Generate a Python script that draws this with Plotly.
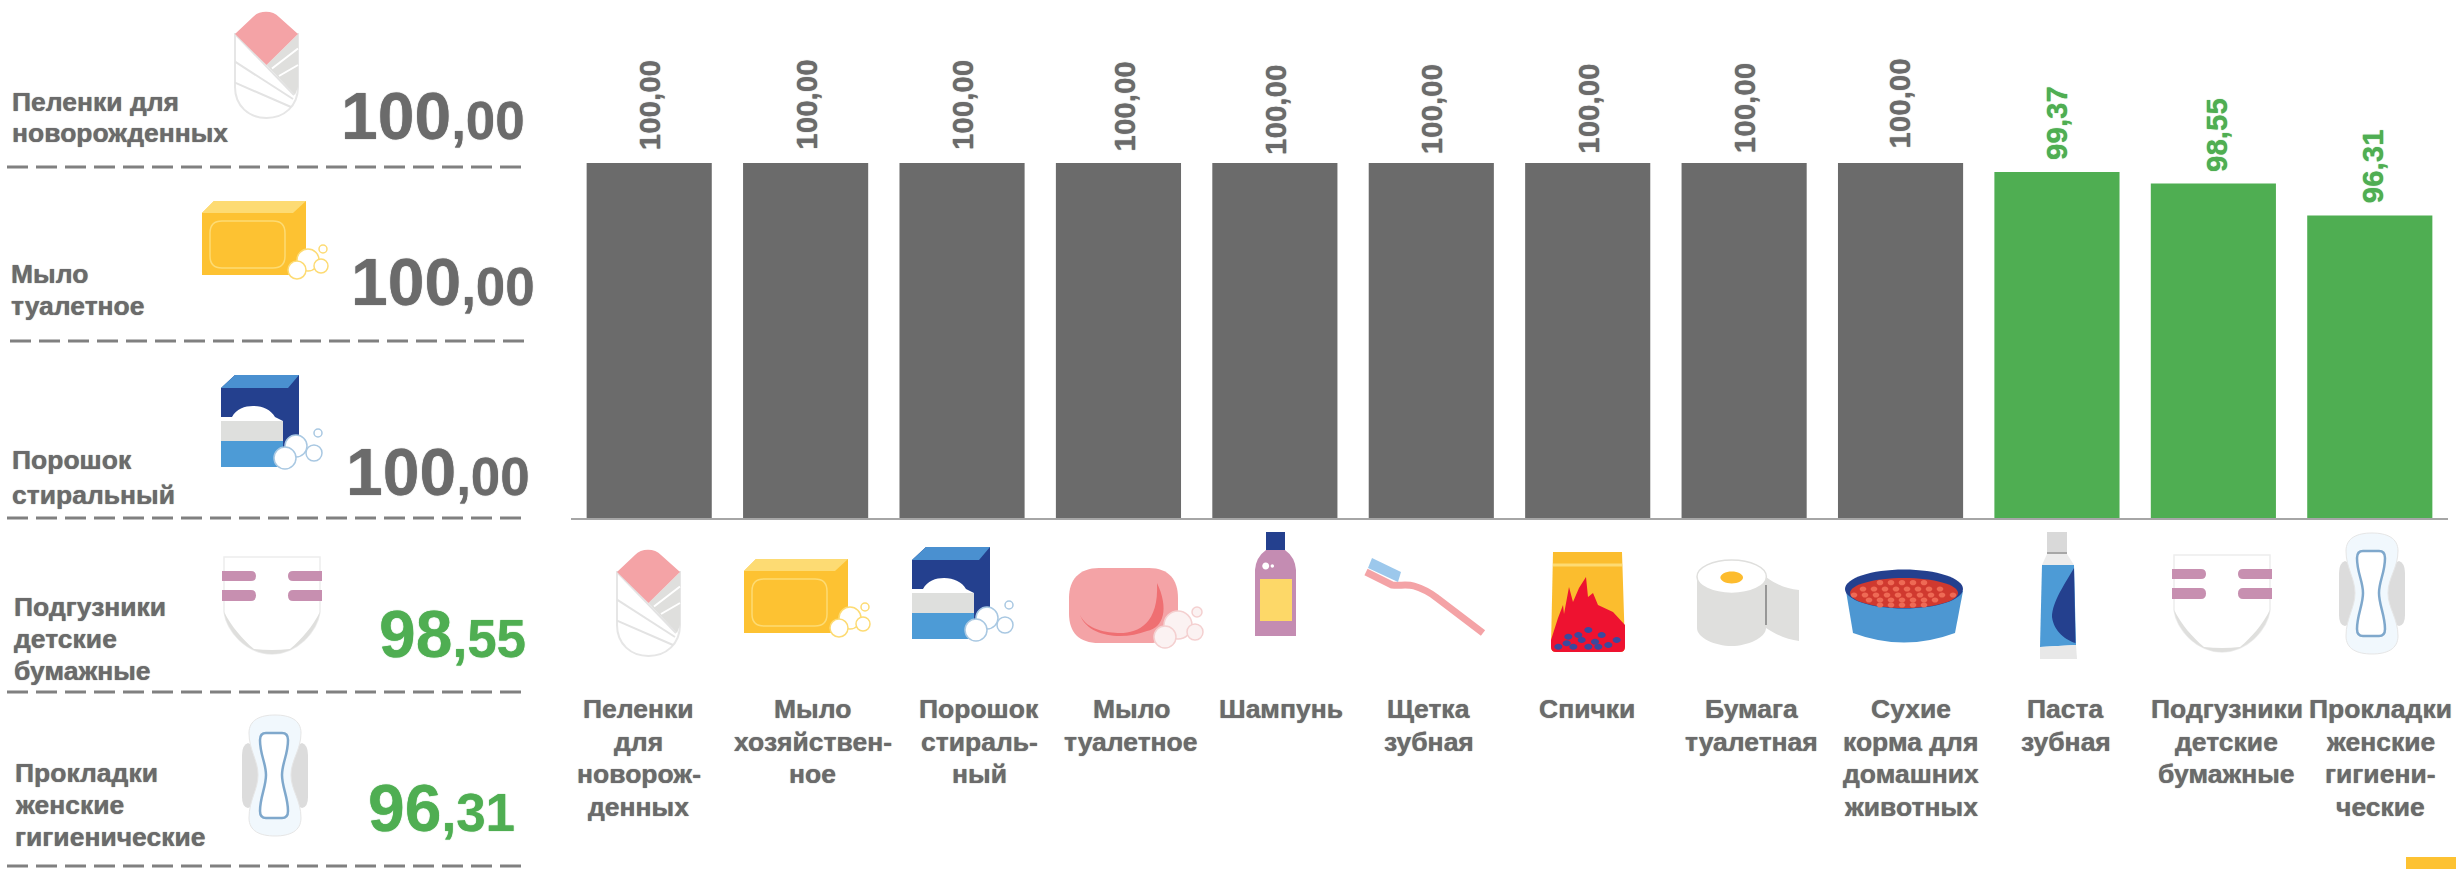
import re
import plotly.graph_objects as go

W, H = 2456, 869
GRAY, GREEN, TEXT = "#6B6B6B", "#4FAE52", "#6B6B6B"
FONT = "Liberation Sans, Arial, sans-serif"

categories = ["Пеленки для новорожденных", "Мыло хозяйственное", "Порошок стиральный", "Мыло туалетное",
              "Шампунь", "Щетка зубная", "Спички", "Бумага туалетная",
              "Сухие корма для домашних животных", "Паста зубная", "Подгузники детские бумажные",
              "Прокладки женские гигиенические"]
values = [100.00, 100.00, 100.00, 100.00, 100.00, 100.00, 100.00, 100.00, 100.00, 99.37, 98.55, 96.31]
tick_labels = [["Пеленки", "для", "новорож-", "денных"], ["Мыло", "хозяйствен-", "ное"], ["Порошок", "стираль-", "ный"],
               ["Мыло", "туалетное"], ["Шампунь"], ["Щетка", "зубная"], ["Спички"], ["Бумага", "туалетная"],
               ["Сухие", "корма для", "домашних", "животных"], ["Паста", "зубная"], ["Подгузники", "детские", "бумажные"],
               ["Прокладки", "женские", "гигиени-", "ческие"]]
panel_names = [["Пеленки для", "новорожденных"], ["Мыло", "туалетное"], ["Порошок", "стиральный"],
               ["Подгузники", "детские", "бумажные"], ["Прокладки", "женские", "гигиенические"]]
panel_values = [100.00, 100.00, 100.00, 98.55, 96.31]

# horizontal nudges of the category captions and value labels, panel layout
tick_shift = [-10.5, 7, 17, 13, 6, -2.5, -1, 7, 10, 9, 13.5, 11]
label_xshift = [0, 0, 0, 6, 0, 0, 0, 0, -2, 0, 3, 3]
label_lift = [11, 11, 11, 10, 6, 7, 7, 8, 12, 10, 10, 10]
panel_text_x = [10, 9, 10, 12, 13]
panel_text_y = [[102, 133], [274, 306], [460, 495], [607, 639, 671], [773, 805, 837]]
panel_value_right = [527, 537, 532, 528, 517]
panel_value_base = [139, 305, 495, 657, 831]
rule_y = [167, 341, 518, 692, 866]
rule_x = [7, 10, 7, 7, 7]

shapes, annotations = [], []


def path(d, ox=0, oy=0, fill=None, line=None, lw=0, layer="above"):
    toks = re.findall(r"[MLCQZ]|-?\d+\.?\d*", d)
    s, isx = "", True
    for t in toks:
        if t in "MLCQZ":
            s += t
        else:
            s += f"{(float(t) + ox) / W:.6f} " if isx else f"{1 - (float(t) + oy) / H:.6f} "
            isx = not isx
    shapes.append(dict(type="path", xref="paper", yref="paper", path=s, layer=layer,
                       fillcolor=fill or "rgba(0,0,0,0)",
                       line=dict(color=line or "rgba(0,0,0,0)", width=lw)))


def ell(cx, cy, rx, ry=None, ox=0, oy=0, **kw):
    ry = rx if ry is None else ry
    k = 0.5523
    d = (f"M{cx - rx},{cy} C{cx - rx},{cy - k * ry} {cx - k * rx},{cy - ry} {cx},{cy - ry} "
         f"C{cx + k * rx},{cy - ry} {cx + rx},{cy - k * ry} {cx + rx},{cy} "
         f"C{cx + rx},{cy + k * ry} {cx + k * rx},{cy + ry} {cx},{cy + ry} "
         f"C{cx - k * rx},{cy + ry} {cx - rx},{cy + k * ry} {cx - rx},{cy} Z")
    path(d, ox, oy, **kw)


PINK, LGREY, NAVY, BLUE, YEL, PALEY = "#F4A3A6", "#DFDFDD", "#24408E", "#4D9BD6", "#FDC232", "#FDDB73"


def swaddle(ox, oy):
    path("M0,23 L0,76 C0,95 14,107 31.5,107 C49,107 63,95 63,76 L63,23 Z", ox, oy, fill="white", line="#E6E6E6", lw=2)
    path("M63,23 L31.5,54 L60,84 L63,76 Z", ox, oy, fill=LGREY)
    for d in ["M37,57.5 L63,37.5", "M44,65 L63,54"]:
        path(d, ox, oy, line="white", lw=2)
    for d in ["M0,23 L59,84", "M0,50.7 L58,88", "M0,71.7 L56,96"]:
        path(d, ox, oy, line="#E3E3E3", lw=2)
    path("M0,23 L18,6 C24,-1 38,-1 44,6 L63,23 L31.5,54 Z", ox, oy, fill=PINK)


def bubbles(ox, oy, items, stroke, fill="white"):
    for cx, cy, r in items:
        ell(cx, cy, r, ox=ox, oy=oy, fill=fill, line=stroke, lw=1.5)


def soap(ox, oy):
    path("M0,12 L12,0 L104,0 L104,60 L91,74 L0,74 Z", ox, oy, fill=YEL)
    path("M0,12 L12,0 L104,0 L91,12 Z", ox, oy, fill=PALEY)
    path("M20,20 L71,20 Q83,20 83,32 L83,55 Q83,67 71,67 L20,67 Q8,67 8,55 L8,32 Q8,20 20,20 Z", ox, oy,
         line=PALEY, lw=1.5)
    bubbles(ox, oy, [(106, 59, 11), (119, 65, 7), (121, 48, 4), (95, 69, 9)], PALEY)


def powder(ox, oy):
    path("M0,13 L14,0 L78,0 L78,80 L62,80 L62,92 L0,92 Z", ox, oy, fill=NAVY)
    path("M0,13 L14,0 L78,0 L67,13 Z", ox, oy, fill="#4A90D0")
    path("M0,46 L0,42 L11,42 C15,34 24,31 32,31 C42,31 50,35 54,42 L62,46 Z", ox, oy, fill="white")
    path("M0,46 L62,46 L62,66 L0,66 Z", ox, oy, fill="#DEDFDD")
    path("M0,66 L62,66 L62,92 L0,92 Z", ox, oy, fill=BLUE)
    bubbles(ox, oy, [(75, 71, 11), (93, 78, 8), (97, 58, 4), (64, 83, 11)], "#A9C8E2")


def diaper(ox, oy):
    path("M2,0 L98,0 L98,55 C95,75 75,97 50,97 C25,97 5,75 2,55 Z", ox, oy, fill="white", line="#EDEDED", lw=1.5)
    path("M2,55 C5,75 25,97 50,97 C75,97 95,75 98,55 C90,70 80,82 68,92 Q50,94 32,92 C20,82 10,70 2,55 Z",
         ox, oy, fill=LGREY)
    for y0, y1 in [(14, 24), (33, 44)]:
        path(f"M0,{y0} L29,{y0} Q34,{y0} 34,{(y0 + y1) / 2} Q34,{y1} 29,{y1} L0,{y1} Z", ox, oy, fill="#C78FB0")
        path(f"M100,{y0} L71,{y0} Q66,{y0} 66,{(y0 + y1) / 2} Q66,{y1} 71,{y1} L100,{y1} Z", ox, oy, fill="#C78FB0")


def pad(ox, oy):
    path("M6,28 Q0,30 0,40 L0,82 Q0,92 6,93 L18,88 L18,34 Z", ox, oy, fill="#DCDCDC")
    path("M60,28 Q66,30 66,40 L66,82 Q66,92 60,93 L48,88 L48,34 Z", ox, oy, fill="#DCDCDC")
    path("M7,18 C7,5 18,0 33,0 C48,0 59,5 59,18 C59,35 49,45 49,60 C49,75 59,85 59,103 "
         "C59,116 48,121 33,121 C18,121 7,116 7,103 C7,85 16,75 16,60 C16,45 7,35 7,18 Z",
         ox, oy, fill="#F1F8FD", line="#E6E6E6", lw=1)
    path("M24,18 L40,18 Q46,18 46,25 C46,40 40,48 40,60 C40,72 46,82 46,96 Q46,103 40,103 L24,103 "
         "Q18,103 18,96 C18,82 24,72 24,60 C24,48 18,40 18,25 Q18,18 24,18 Z",
         ox, oy, fill="white", line="#7FA8CC", lw=2.5)


def soap_pink(ox, oy):
    path("M30,0 L80,0 C100,0 109,12 109,30 L109,45 C109,65 100,75 80,75 L30,75 C10,75 0,65 0,45 L0,30 C0,12 10,0 30,0 Z",
         ox, oy, fill=PINK)
    path("M11,47 C18,62 38,65 51,65 C70,65 90,55 88,15 C100,40 95,60 78,63 C55,72 20,70 11,47 Z", ox, oy,
         fill="#EF6F72")
    bubbles(ox, oy, [(109, 57, 14), (126, 64, 8), (128, 44, 5), (96, 69, 11)], "#F4D0D0", "#FBF2F2")


def shampoo(ox, oy):
    path("M11,0 L30,0 L30,18 L11,18 Z", ox, oy, fill=NAVY)
    path("M11,18 L30,18 Q40,25 41,38 L41,104 L0,104 L0,38 Q1,25 11,18 Z", ox, oy, fill="#C48CB2")
    path("M5,47 L37,47 L37,89 L5,89 Z", ox, oy, fill="#FDD868")
    ell(10.7, 34, 3.5, ox=ox, oy=oy, fill="white")
    ell(17.3, 34, 1.7, ox=ox, oy=oy, fill="white")


def brush(ox, oy):
    path("M2,14 L28,27 C35,28 43,26 50,28 C60,31 68,36 73,40 L119,75", ox, oy, line=PINK, lw=7)
    path("M8,0 L37,14 L34,24 L4,10 Z", ox, oy, fill="#9CC8EC")


def matches(ox, oy):
    path("M3,0 L72,0 L75,95 Q75,100 70,100 L6,100 Q1,100 1,95 Z", ox, oy, fill="#FBBD2E")
    path("M3,13 L72,13", ox, oy, line=PALEY, lw=3)
    path("M1,88 L8,66 L13,53 L14,62 L19,35 L23,50 L29,36 L36,25 L38,45 L43,41 L48,53 L63,60 L75,73 L75,95 "
         "Q75,100 70,100 L6,100 Q1,100 1,95 Z", ox, oy, fill="#EE1230")
    for zx, zy in [(115, 320), (175, 300), (215, 315), (260, 330), (85, 350), (130, 350), (175, 350), (235, 345),
                   (155, 330), (195, 335), (145, 315), (110, 340), (205, 350)]:
        ell(zx / 3 - 20, zy / 3 - 22, 4, 3, ox=ox, oy=oy, fill="#3A4A9E")


def roll(ox, oy):
    path("M69,17 C80,25 90,29 102,30 L102,81 C90,80 78,74 69,68 Z", ox, oy, fill=LGREY)
    path("M0,17 L69,17 L69,68 C69,78 50,86 34.7,86 C18,86 0,78 0,68 Z", ox, oy, fill=LGREY)
    ell(34.7, 16.7, 34.7, 16.7, ox=ox, oy=oy, fill="white", line=LGREY, lw=1.5)
    ell(34.7, 17.5, 11.3, 6, ox=ox, oy=oy, fill="#FDBC2E")
    path("M69,25 L69,65", ox, oy, line="#808080", lw=1.5)


def bowl(ox, oy):
    path("M1,22 L8,64 Q59,83 110,64 L118,22 Z", ox, oy, fill="#4D97D2")
    ell(59, 20, 59, 19.5, ox=ox, oy=oy, fill=NAVY)
    ell(59, 24, 54, 15, ox=ox, oy=oy, fill="#D0392F")
    for j, y in enumerate([13.7, 20, 26, 31, 36]):
        half = [24, 46, 50, 40, 24][j]
        x = 59 - half + (j % 2) * 5
        while x <= 59 + half:
            ell(x, y, 3.3, 2.6, ox=ox, oy=oy, fill="#EE6A55")
            x += 11


def paste(ox, oy):
    path("M7,0 L27,0 L27,20 L7,20 Z", ox, oy, fill="#D9D9D9")
    path("M7,21 L27,21", ox, oy, line="#8A8A8A", lw=1.5)
    path("M7,22 L27,22 L34,33 L2,33 Z", ox, oy, fill="#ECECEC")
    path("M2,33 L34,33 L36,113 L0,115 Z", ox, oy, fill=BLUE)
    path("M34,36 C26,50 12,70 12,85 C14,100 26,108 35.5,111 Z", ox, oy, fill=NAVY)
    path("M0,115 L36,113 L37,127 L0,127 Z", ox, oy, fill="#E8E8E8")


# pictograms: left panel
swaddle(235, 11)
soap(202, 201)
powder(221, 375)
diaper(222, 557)
pad(242, 715)
# pictograms: below bars
swaddle(617, 549)
soap(744, 559)
powder(912, 547)
soap_pink(1069, 568)
shampoo(1255, 532)
brush(1364, 558)
matches(1550, 552)
roll(1697, 560)
bowl(1845, 569)
paste(2040, 532)
diaper(2172, 555)
pad(2339, 533)

# dashed rules and corner tab
for x0, y in zip(rule_x, rule_y):
    shapes.append(dict(type="line", xref="paper", yref="paper", x0=x0 / W, x1=(x0 + 518) / W, y0=1 - y / H, y1=1 - y / H,
                       line=dict(color="#808080", width=3, dash="21px,8px")))
shapes.append(dict(type="rect", xref="paper", yref="paper", x0=2406 / W, x1=1, y0=0, y1=12 / H,
                   fillcolor="#FDC232", line=dict(width=0)))


def heavy(size, color):
    return dict(size=size, color=color, family=FONT, shadow=f"0 0 1px {color}")


# left panel text
for lines, x, ys in zip(panel_names, panel_text_x, panel_text_y):
    for ln, y in zip(lines, ys):
        annotations.append(dict(text=f"<b>{ln}</b>", xref="paper", yref="paper", x=x / W, y=1 - y / H, xanchor="left",
                                yanchor="middle", showarrow=False, font=heavy(26.5, TEXT)))
for v, r, b in zip(panel_values, panel_value_right, panel_value_base):
    whole, frac = f"{v:.2f}".split(".")
    col = GRAY if v >= 100 else GREEN
    annotations.append(dict(text=f"<b>{whole}<span style='font-size:53px'>,{frac}</span></b>", xref="paper", yref="paper",
                            x=r / W, y=1 - b / H, xanchor="right", yanchor="bottom", yshift=-16, showarrow=False,
                            font=heavy(66, col)))

colors = [GRAY if v >= 100 else GREEN for v in values]
for c, v, col, dx, lift in zip(categories, values, colors, label_xshift, label_lift):
    annotations.append(dict(text=f"<b>{v:.2f}".replace(".", ",") + "</b>", xref="x", yref="y", x=c, y=v, xanchor="center",
                            yanchor="bottom", xshift=dx, yshift=lift, textangle=-90, showarrow=False,
                            font=heavy(29.5, col)))
for c, lines, s in zip(categories, tick_labels, tick_shift):
    for i, ln in enumerate(lines):
        annotations.append(dict(text=f"<b>{ln}</b>", xref="x", yref="paper", x=c, y=1 - (709 + 32.5 * i) / H,
                                xanchor="center", xshift=s, yanchor="middle", showarrow=False, font=heavy(26.5, TEXT)))

fig = go.Figure(go.Bar(x=categories, y=values, marker=dict(color=colors, line=dict(width=0)), hoverinfo="skip"))
fig.update_layout(
    width=W, height=H, margin=dict(l=0, r=0, t=0, b=0), paper_bgcolor="white", plot_bgcolor="white",
    bargap=0.2, showlegend=False, shapes=shapes, annotations=annotations,
    xaxis=dict(domain=[571 / W, 2448 / W], type="category", range=[-0.5, 11.5], autorange=False,
               showticklabels=False, ticks="", showgrid=False,
               showline=True, linecolor="#A6A6A6", linewidth=2, zeroline=False),
    yaxis=dict(domain=[1 - 518.3 / H, 1], range=[75, 111.47], visible=False, showgrid=False),
)
fig.write_html("out.html", config=dict(displayModeBar=False),
               post_script="document.body.style.margin='0';document.body.style.overflow='hidden';")
